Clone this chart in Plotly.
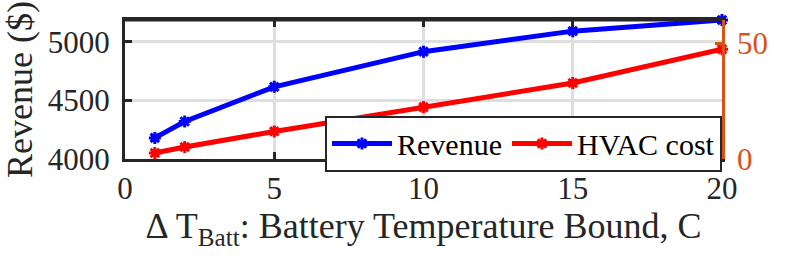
import plotly.graph_objects as go

x_vals = [1, 2, 5, 10, 15, 20]
revenue = [4180, 4320, 4615, 4915, 5090, 5185]
hvac_cost = [2.6, 5.2, 11.9, 22.4, 32.8, 47.4]
x_ticks = [0, 5, 10, 15, 20]
y_ticks = [4000, 4500, 5000]
y2_ticks = [0, 50]

FONT = "Liberation Serif, Times New Roman, serif"
ORANGE = "#D95319"
TXT = "#262626"

fig = go.Figure()
fig.add_trace(go.Scatter(
    x=x_vals, y=revenue, name="Revenue", mode="lines+markers",
    line=dict(color="#0000FF", width=5),
    marker=dict(symbol="asterisk-open", size=10, line=dict(color="#0000FF", width=3)),
    yaxis="y", cliponaxis=False))
fig.add_trace(go.Scatter(
    x=x_vals, y=hvac_cost, name="HVAC cost", mode="lines+markers",
    line=dict(color="#FF0000", width=5),
    marker=dict(symbol="asterisk-open", size=10, line=dict(color="#FF0000", width=3)),
    yaxis="y2", cliponaxis=False))

fig.update_layout(
    width=797, height=266,
    margin=dict(l=125, r=75, t=20, b=107, autoexpand=False),
    paper_bgcolor="white", plot_bgcolor="white",
    font=dict(family=FONT, size=31, color=TXT),
    showlegend=True,
    legend=dict(orientation="h", x=1, xanchor="right", y=-0.09, yanchor="bottom",
                bgcolor="white", bordercolor="#262626", borderwidth=2,
                font=dict(family=FONT, size=30, color="black"),
                itemwidth=60, tracegroupgap=0),
    xaxis=dict(range=[0, 20], tickvals=x_ticks, ticks="inside", ticklen=7, tickwidth=2.5,
               tickcolor="#262626", mirror="ticks", showline=True, linecolor="#262626",
               linewidth=3, showgrid=True, gridcolor="#dedede", gridwidth=2.5,
               zeroline=False, automargin=False,
               tickfont=dict(family=FONT, size=31, color=TXT),
               title=dict(text="Δ T<sub>Batt</sub>: Battery Temperature Bound, C",
                          font=dict(family=FONT, size=36, color=TXT), standoff=6)),
    yaxis=dict(range=[4000, 5185], tickvals=y_ticks, ticks="inside", ticklen=7, tickwidth=2.5,
               tickcolor="#262626", showline=True, linecolor="#262626", linewidth=3,
               showgrid=True, gridcolor="#dedede", gridwidth=2.5, zeroline=False,
               automargin=False,
               tickfont=dict(family=FONT, size=31, color=TXT), ticklabelstandoff=6,
               title=dict(text="Revenue ($)", font=dict(family=FONT, size=36, color=TXT),
                          standoff=9)),
    yaxis2=dict(range=[0, 60], tickvals=y2_ticks, overlaying="y", side="right",
                ticks="inside", ticklen=7, tickwidth=2.5, tickcolor=ORANGE,
                showline=True, linecolor=ORANGE, linewidth=2.5, showgrid=False,
                zeroline=False, automargin=False,
                tickfont=dict(family=FONT, size=31, color=ORANGE), ticklabelstandoff=6),
)
fig.add_shape(type="line", xref="paper", yref="paper", x0=0, x1=1, y0=1, y1=1,
              line=dict(color="#262626", width=3))
# remove the page's default 8px body margin so the figure fills the window exactly
fig.write_html("out.html", config={"displayModeBar": False},
               post_script="document.body.style.margin='0px';")
